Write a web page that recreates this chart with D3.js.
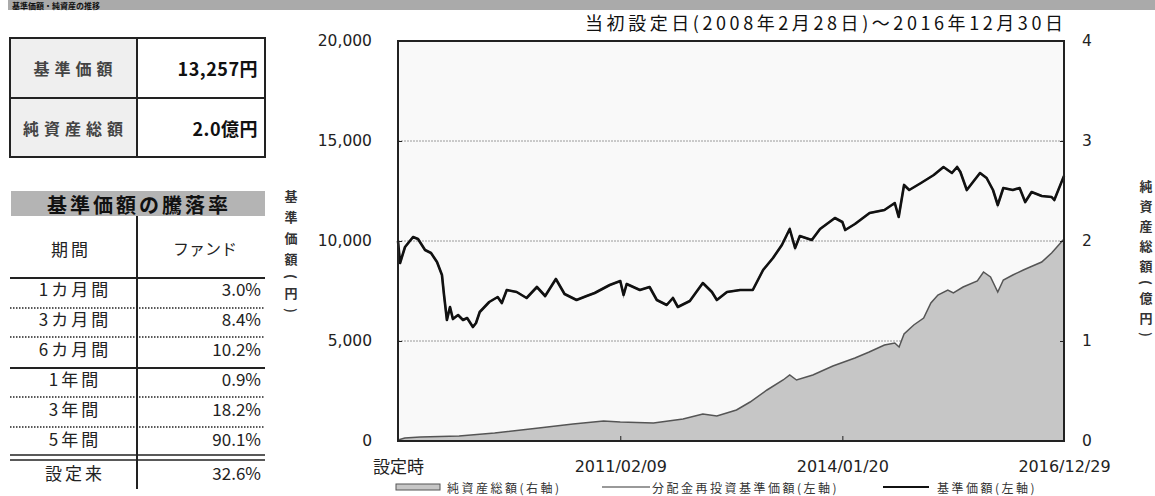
<!DOCTYPE html>
<html>
<head>
<meta charset="utf-8">
<script src="https://cdn.jsdelivr.net/npm/d3@7"></script>
<style>
  html, body { margin: 0; padding: 0; background: #fff; }
  svg { display: block; font-family: "Noto Sans CJK JP", "Noto Sans", sans-serif; }
</style>
</head>
<body>
<svg id="chart" width="1155" height="496"></svg>
<script>
(function () {
    'use strict';

    // 基準価額 (円)
    const navDates = ['2008-02-28', '2008-03-09', '2008-04-02', '2008-05-11', '2008-06-04', '2008-07-08', '2008-08-06',
        '2008-09-04', '2008-09-28', '2008-10-08', '2008-10-22', '2008-11-06', '2008-11-20', '2008-12-15', '2009-01-08',
        '2009-01-28', '2009-02-25', '2009-03-12', '2009-03-30', '2009-05-15', '2009-06-25', '2009-07-15', '2009-08-08',
        '2009-09-25', '2009-11-12', '2010-01-01', '2010-02-10', '2010-04-03', '2010-05-15', '2010-07-12', '2010-08-30',
        '2010-10-08', '2010-12-20', '2011-02-09', '2011-02-25', '2011-03-12', '2011-05-15', '2011-07-01', '2011-08-05',
        '2011-09-22', '2011-10-22', '2011-11-15', '2012-01-12', '2012-03-15', '2012-04-28', '2012-05-22', '2012-07-10',
        '2012-09-12', '2012-11-12', '2013-01-01', '2013-02-18', '2013-04-02', '2013-05-10', '2013-06-05', '2013-06-28',
        '2013-08-25', '2013-10-04', '2013-12-15', '2014-01-20', '2014-02-03', '2014-03-22', '2014-06-01', '2014-08-12',
        '2014-10-01', '2014-10-20', '2014-11-15', '2014-12-10', '2015-02-05', '2015-04-08', '2015-05-25', '2015-07-05',
        '2015-07-30', '2015-08-15', '2015-09-15', '2015-10-15', '2015-11-18', '2015-12-20', '2016-01-20', '2016-02-12',
        '2016-03-10', '2016-04-25', '2016-05-28', '2016-06-24', '2016-07-25', '2016-09-12', '2016-10-30', '2016-11-12',
        '2016-12-29'];
    const navValues = [10000, 8900, 9700, 10200, 10100, 9550, 9400,
        8950, 8300, 7300, 6050, 6700, 6100, 6300, 6050,
        6150, 5700, 5900, 6450, 6950, 7200, 6900, 7550,
        7450, 7150, 7700, 7250, 8100, 7350, 7050, 7250,
        7400, 7800, 8000, 7300, 7850, 7550, 7700, 7050,
        6800, 7150, 6700, 7000, 7900, 7450, 7050, 7450,
        7550, 7550, 8550, 9150, 9800, 10600, 9650, 10250,
        10050, 10600, 11150, 10950, 10550, 10850, 11400, 11550,
        11900, 11200, 12800, 12550, 12900, 13300, 13700, 13400,
        13700, 13450, 12550, 12950, 13400, 13150, 12550, 11800,
        12650, 12550, 12650, 11950, 12450, 12250, 12200, 12050,
        13257];
    // 分配金再投資基準価額 (円) — 分配なしのため基準価額と同じ
    const reinvestValues = navValues.slice();

    // 純資産総額 (億円)
    const assetDates = ['2008-02-28', '2008-04-01', '2008-06-15', '2008-12-20', '2009-06-10', '2010-01-10', '2010-06-25',
        '2010-11-20', '2011-02-09', '2011-07-20', '2011-12-10', '2012-03-15', '2012-05-22', '2012-08-25', '2012-10-30',
        '2013-01-20', '2013-04-08', '2013-05-10', '2013-06-12', '2013-08-30', '2013-12-05', '2014-03-22', '2014-05-30',
        '2014-08-12', '2014-10-01', '2014-10-22', '2014-11-15', '2015-01-01', '2015-02-18', '2015-03-25', '2015-04-28',
        '2015-06-15', '2015-07-12', '2015-08-28', '2015-11-05', '2015-12-05', '2016-01-08', '2016-02-12', '2016-03-10',
        '2016-04-25', '2016-06-15', '2016-07-18', '2016-09-12', '2016-10-30', '2016-12-29'];
    const assetValues = [0.01, 0.03, 0.04, 0.05, 0.08, 0.13, 0.17,
        0.20, 0.19, 0.18, 0.22, 0.27, 0.25, 0.31, 0.39,
        0.51, 0.61, 0.66, 0.61, 0.66, 0.75, 0.83, 0.89,
        0.96, 0.98, 0.94, 1.07, 1.16, 1.23, 1.38, 1.46,
        1.51, 1.48, 1.54, 1.60, 1.69, 1.64, 1.49, 1.61,
        1.66, 1.71, 1.74, 1.79, 1.88, 2.02];

    const xTickDates = ['2008-02-28', '2011-02-09', '2014-01-20', '2016-12-29'];
    const xTickLabels = ['設定時', '2011/02/09', '2014/01/20', '2016/12/29'];
    const leftTicks = [0, 5000, 10000, 15000, 20000];
    const rightTicks = [0, 1, 2, 3, 4];

    const summaryLabels = ['基準価額', '純資産総額'];
    const summaryValues = ['13,257円', '2.0億円'];

    const periodLabels = ['1カ月間', '3カ月間', '6カ月間', '1年間', '3年間', '5年間', '設定来'];
    const periodReturns = ['3.0%', '8.4%', '10.2%', '0.9%', '18.2%', '90.1%', '32.6%'];

    const parse = d3.timeParse('%Y-%m-%d');
    const svg = d3.select('#chart');
    const textColor = '#222';
    const numFont = '"DejaVu Sans", sans-serif';

    // ---- header bar ----
    svg.append('rect').attr('x', 8).attr('y', 0).attr('width', 1147).attr('height', 10).attr('fill', '#aaaaaa');
    svg.append('text').attr('x', 12).attr('y', 5).attr('dominant-baseline', 'central')
        .attr('font-size', 8).attr('font-weight', 700)
        .attr('fill', '#111').text('基準価額・純資産の推移');

    // ---- summary table ----
    const sumG = svg.append('g');
    const sumX = [10, 137, 265];
    const sumY = [38, 98, 157];
    summaryLabels.forEach((label, i) => {
        sumG.append('rect').attr('x', sumX[0]).attr('y', sumY[i]).attr('width', sumX[1] - sumX[0])
            .attr('height', sumY[i + 1] - sumY[i]).attr('fill', '#efefef');
        sumG.append('text').attr('x', (sumX[0] + sumX[1]) / 2 + 2).attr('y', (sumY[i] + sumY[i + 1]) / 2)
            .attr('text-anchor', 'middle').attr('dominant-baseline', 'central')
            .attr('font-size', 16).attr('font-weight', 700).attr('letter-spacing', 5)
            .attr('fill', '#444').text(label);
        sumG.append('text').attr('x', sumX[2] - 7).attr('y', (sumY[i] + sumY[i + 1]) / 2)
            .attr('text-anchor', 'end').attr('dominant-baseline', 'central')
            .attr('font-size', 18).attr('font-weight', 700).attr('letter-spacing', 0.5)
            .attr('fill', '#111').text(summaryValues[i]);
    });
    sumG.append('rect').attr('x', sumX[0]).attr('y', sumY[0]).attr('width', sumX[2] - sumX[0])
        .attr('height', sumY[2] - sumY[0]).attr('fill', 'none').attr('stroke', '#222').attr('stroke-width', 2);
    sumG.append('line').attr('x1', sumX[0]).attr('x2', sumX[2]).attr('y1', sumY[1]).attr('y2', sumY[1])
        .attr('stroke', '#222').attr('stroke-width', 2);
    sumG.append('line').attr('x1', sumX[1]).attr('x2', sumX[1]).attr('y1', sumY[0]).attr('y2', sumY[2])
        .attr('stroke', '#222').attr('stroke-width', 2);

    // ---- return table ----
    const retG = svg.append('g');
    retG.append('rect').attr('x', 11).attr('y', 191).attr('width', 254).attr('height', 25).attr('fill', '#b4b4b4');
    retG.append('text').attr('x', 139).attr('y', 204).attr('text-anchor', 'middle').attr('dominant-baseline', 'central')
        .attr('font-size', 20).attr('font-weight', 700).attr('letter-spacing', 3)
        .attr('fill', '#111').text('基準価額の騰落率');
    retG.append('line').attr('x1', 137).attr('x2', 137).attr('y1', 216).attr('y2', 489)
        .attr('stroke', '#222').attr('stroke-width', 2);
    retG.append('text').attr('x', 71).attr('y', 248).attr('text-anchor', 'middle').attr('dominant-baseline', 'central')
        .attr('font-size', 17).attr('letter-spacing', 3).attr('fill', '#222').text('期間');
    retG.append('text').attr('x', 205).attr('y', 248).attr('text-anchor', 'middle').attr('dominant-baseline', 'central')
        .attr('font-size', 16).attr('fill', '#222').text('ファンド');

    const rowCenters = [288, 318, 348, 378, 408, 438, 472];
    const lineYs = [278, 308, 337, 368, 397, 427];
    const lineStyles = ['solid', 'dot', 'dot', 'solid', 'dot', 'dot'];
    lineYs.forEach((y, i) => {
        retG.append('line').attr('x1', 10).attr('x2', 265).attr('y1', y).attr('y2', y)
            .attr('stroke', '#222').attr('stroke-width', lineStyles[i] === 'solid' ? 2 : 1.5)
            .attr('stroke-dasharray', lineStyles[i] === 'solid' ? null : '1.5,1.5');
    });
    [455, 460].forEach((y) => {
        retG.append('line').attr('x1', 10).attr('x2', 265).attr('y1', y).attr('y2', y)
            .attr('stroke', '#222').attr('stroke-width', 1.5);
    });
    periodLabels.forEach((label, i) => {
        retG.append('text').attr('x', 75).attr('y', rowCenters[i]).attr('text-anchor', 'middle')
            .attr('dominant-baseline', 'central').attr('font-size', 17).attr('letter-spacing', 3)
            .attr('fill', '#222').text(label);
        retG.append('text').attr('x', 261).attr('y', rowCenters[i]).attr('text-anchor', 'end')
            .attr('dominant-baseline', 'central').attr('font-size', 17).attr('fill', '#222').text(periodReturns[i]);
    });

    // ---- chart ----
    const plot = { left: 398, right: 1064, top: 41, bottom: 441 };
    const x = d3.scaleTime()
        .domain([parse(xTickDates[0]), parse(xTickDates[xTickDates.length - 1])])
        .range([plot.left, plot.right]);
    const yL = d3.scaleLinear().domain([0, 20000]).range([plot.bottom, plot.top]);
    const yR = d3.scaleLinear().domain([0, 4]).range([plot.bottom, plot.top]);

    svg.append('rect').attr('x', plot.left).attr('y', plot.top).attr('width', plot.right - plot.left)
        .attr('height', plot.bottom - plot.top).attr('fill', '#f9f9f9');

    // gridlines
    svg.append('g').selectAll('line').data(leftTicks.filter((t) => t > 0 && t < 20000)).join('line')
        .attr('x1', plot.left).attr('x2', plot.right)
        .attr('y1', (d) => yL(d)).attr('y2', (d) => yL(d))
        .attr('stroke', '#9a9a9a').attr('stroke-width', 1).attr('stroke-dasharray', '2,1');

    const navData = navDates.map((d, i) => ({ date: parse(d), value: navValues[i] }));
    const reinvestData = navDates.map((d, i) => ({ date: parse(d), value: reinvestValues[i] }));
    const assetData = assetDates.map((d, i) => ({ date: parse(d), value: assetValues[i] }));

    svg.append('path').datum(assetData)
        .attr('d', d3.area().x((d) => x(d.date)).y0(plot.bottom).y1((d) => yR(d.value)))
        .attr('fill', '#c6c6c6');
    svg.append('path').datum(assetData)
        .attr('d', d3.line().x((d) => x(d.date)).y((d) => yR(d.value)))
        .attr('fill', 'none').attr('stroke', '#555').attr('stroke-width', 1.5);

    svg.append('path').datum(reinvestData)
        .attr('d', d3.line().x((d) => x(d.date)).y((d) => yL(d.value)))
        .attr('fill', 'none').attr('stroke', '#999').attr('stroke-width', 2);
    svg.append('path').datum(navData)
        .attr('d', d3.line().x((d) => x(d.date)).y((d) => yL(d.value)))
        .attr('fill', 'none').attr('stroke', '#111').attr('stroke-width', 2.6).attr('stroke-linejoin', 'round');

    // frame
    svg.append('rect').attr('x', plot.left).attr('y', plot.top).attr('width', plot.right - plot.left)
        .attr('height', plot.bottom - plot.top).attr('fill', 'none').attr('stroke', '#222').attr('stroke-width', 2);

    // left axis
    const leftAxis = svg.append('g').attr('transform', `translate(${plot.left},0)`)
        .call(d3.axisLeft(yL).tickValues(leftTicks).tickSize(-4).tickPadding(26).tickFormat(d3.format(',')));
    leftAxis.select('.domain').remove();
    leftAxis.selectAll('line').attr('stroke', '#222');
    leftAxis.selectAll('text').attr('font-size', 15.5).attr('fill', textColor).attr('font-family', numFont);

    // right axis
    const rightAxis = svg.append('g').attr('transform', `translate(${plot.right},0)`)
        .call(d3.axisRight(yR).tickValues(rightTicks).tickSize(-4).tickPadding(18).tickFormat(d3.format('d')));
    rightAxis.select('.domain').remove();
    rightAxis.selectAll('line').attr('stroke', '#222');
    rightAxis.selectAll('text').attr('font-size', 15.5).attr('fill', textColor).attr('font-family', numFont);

    // bottom axis
    const bottomAxis = svg.append('g').attr('transform', `translate(0,${plot.bottom})`)
        .call(d3.axisBottom(x).tickValues(xTickDates.map(parse)).tickSize(-5).tickPadding(20)
            .tickFormat((d, i) => xTickLabels[i]));
    bottomAxis.select('.domain').remove();
    bottomAxis.selectAll('line').attr('stroke', '#222');
    bottomAxis.selectAll('text').attr('font-size', 16).attr('fill', textColor).attr('font-family', numFont);
    bottomAxis.selectAll('.tick').filter((d, i) => i === 0).select('text')
        .attr('font-family', '"Noto Sans CJK JP", sans-serif').attr('font-size', 17);

    // axis titles
    svg.append('text').attr('x', 291).attr('y', 190).attr('font-size', 13).attr('font-weight', 700)
        .attr('letter-spacing', 8).attr('fill', '#333').style('writing-mode', 'vertical-rl').text('基準価額(円)');
    svg.append('text').attr('x', 1146).attr('y', 180).attr('font-size', 13).attr('font-weight', 700)
        .attr('letter-spacing', 7).attr('fill', '#333').style('writing-mode', 'vertical-rl').text('純資産総額(億円)');

    // period title
    svg.append('text').attr('x', 1063).attr('y', 30).attr('text-anchor', 'end').attr('font-size', 18)
        .attr('textLength', 478).attr('lengthAdjust', 'spacing')
        .attr('fill', '#111').text('当初設定日(2008年2月28日)～2016年12月30日');

    // legend
    const lg = svg.append('g').attr('font-size', 12).attr('letter-spacing', 2.5).attr('fill', '#333');
    lg.append('rect').attr('x', 396).attr('y', 484).attr('width', 44).attr('height', 6)
        .attr('fill', '#c6c6c6').attr('stroke', '#555').attr('stroke-width', 1);
    lg.append('text').attr('x', 447).attr('y', 487).attr('dominant-baseline', 'central').text('純資産総額(右軸)');
    lg.append('line').attr('x1', 602).attr('x2', 650).attr('y1', 487).attr('y2', 487)
        .attr('stroke', '#999').attr('stroke-width', 2);
    lg.append('text').attr('x', 652).attr('y', 487).attr('dominant-baseline', 'central').text('分配金再投資基準価額(左軸)');
    lg.append('line').attr('x1', 883).attr('x2', 929).attr('y1', 487).attr('y2', 487)
        .attr('stroke', '#111').attr('stroke-width', 2);
    lg.append('text').attr('x', 937).attr('y', 487).attr('dominant-baseline', 'central').text('基準価額(左軸)');
})();
</script>
</body>
</html>
